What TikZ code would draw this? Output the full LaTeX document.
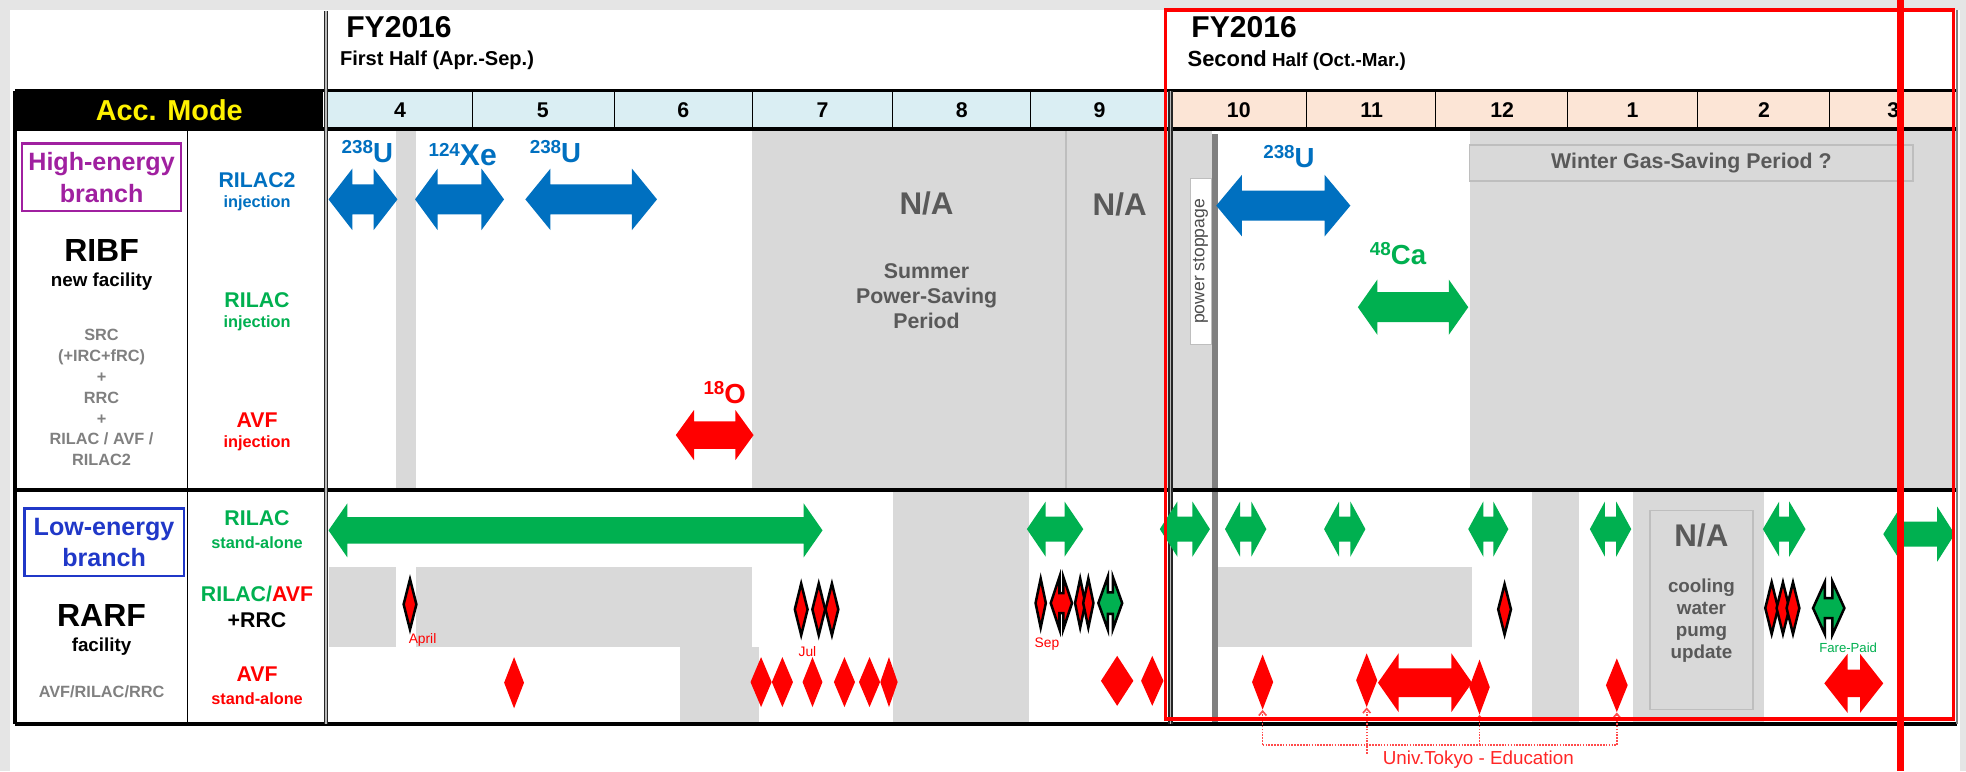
\documentclass[tikz,border=0pt]{standalone}
\usepackage{fontspec}
\setmainfont{Liberation Sans}
\usepackage{xcolor}
\usetikzlibrary{shapes.geometric, arrows.meta, positioning}

\definecolor{hblue}{RGB}{0,112,192}
\definecolor{hgreen}{RGB}{0,176,80}
\definecolor{hred}{RGB}{255,0,0}
\definecolor{hgrey}{RGB}{217,217,217}
\definecolor{hbord}{RGB}{190,190,190}
\definecolor{htext}{RGB}{89,89,89}
\definecolor{lgrey}{RGB}{128,128,128}
\definecolor{hpurple}{RGB}{160,32,160}
\definecolor{lblue}{RGB}{32,56,200}
\definecolor{mfirst}{RGB}{218,238,243}
\definecolor{msecond}{RGB}{252,229,214}
\definecolor{bgout}{RGB}{229,229,229}

\newcommand{\dblarrow}[7]{%
  \path[#1] (#2,#4) -- (#2+#5,#4-#6) -- (#2+#5,#4-#7) -- (#3-#5,#4-#7)
    -- (#3-#5,#4-#6) -- (#3,#4) -- (#3-#5,#4+#6) -- (#3-#5,#4+#7)
    -- (#2+#5,#4+#7) -- (#2+#5,#4+#6) -- cycle;}
\newcommand{\isotope}[2]{{\fontsize{15}{15}\selectfont\raisebox{7pt}{#1}}#2}

\begin{document}
\begin{tikzpicture}[
    x=1pt, y=-1pt,
    every node/.style={inner sep=0pt},
    mode/.style={font=\bfseries\fontsize{23}{23}\selectfont, text=yellow},
    fyear/.style={font=\bfseries\fontsize{24}{24}\selectfont, anchor=west},
    halfyr/.style={font=\bfseries\fontsize{16}{16}\selectfont, anchor=west},
    month/.style={font=\bfseries\fontsize{17}{17}\selectfont},
    branch/.style={draw, line width=1.8, inner sep=0pt, minimum width=127, minimum height=54, align=center, font=\bfseries\fontsize{20}{25}\selectfont},
    facility/.style={font=\bfseries\fontsize{25.5}{25.5}\selectfont},
    subfac/.style={font=\bfseries\fontsize{15}{15}\selectfont},
    accel/.style={font=\bfseries\fontsize{13}{16.7}\selectfont, text=lgrey, align=center},
    mach/.style={font=\bfseries\fontsize{17}{17}\selectfont},
    inj/.style={font=\bfseries\fontsize{13}{13}\selectfont},
    na/.style={font=\bfseries\fontsize{25}{25}\selectfont, text=htext},
    period/.style={font=\bfseries\fontsize{17}{20}\selectfont, text=htext, align=center},
    iso/.style={font=\bfseries\fontsize{22}{22}\selectfont},
    tag/.style={font=\fontsize{11}{11}\selectfont, text=hred},
    dline/.style={draw=black!85, double=gray!55, double distance=1.2, line width=1.1},
    rdia/.style 2 args={diamond, fill=hred, inner sep=0pt, minimum width=#1, minimum height=#2},
    odia/.style 2 args={diamond, fill=hred, draw=black, line width=2, line join=miter, inner sep=0pt, minimum width=#1, minimum height=#2},
    edu/.style={draw=hred!70, line width=1.3, densely dotted}
]
\fill[bgout] (0,0) rectangle (1568,615);
\useasboundingbox (0,0) rectangle (1568,615);
\fill[white] (8,8) rectangle (1563,615);

% grey periods
\fill[hgrey] (316,103) rectangle (332,391);
\fill[hgrey] (600,103) rectangle (967,391);
\fill[hgrey] (1172,103) rectangle (1561,391);
\fill[hgrey] (262,452) rectangle (316,516);
\fill[hgrey] (332,452) rectangle (600,516);
\fill[hgrey] (542,516) rectangle (605,577);
\fill[hgrey] (712,391) rectangle (821,577);
\fill[hgrey] (971,452) rectangle (1174,516);
\fill[hgrey] (1222,391) rectangle (1259,577);
\fill[hgrey] (1302,391) rectangle (1407,577);
\draw[hbord, line width=1.2] (850,103) -- (850,391);

% header row
\fill[black] (12,72.5) rectangle (258,103);
\fill[mfirst] (260,72.5) rectangle (933,103);
\fill[msecond] (933,72.5) rectangle (1561,103);
\foreach \x in {377,490,600,712,822,1042,1145,1250,1354,1459}
    \draw[line width=1] (\x,72.5) -- (\x,103);
\foreach \m/\x in {4/319,5/433,6/545,7/656,8/767,9/877,10/988,11/1094,12/1198,1/1302,2/1407,3/1510}
    \node[month] (m\m) at (\x,88) {\m};
\node[mode] (acc) at (135,88) {Acc. Mode};

% power stoppage
\draw[lgrey, line width=4.5] (969,107) -- (969,578);
\node[draw=hbord, fill=white, line width=0.6, rotate=90, minimum width=133, minimum height=17,
      font=\fontsize{14}{14}\selectfont, text=black!70] (stop) at (957.5,208.5) {power stoppage};

% table lines
\draw[line width=2.5] (12,72.5) -- (1561,72.5);
\draw[line width=3] (12,103) -- (1561,103);
\draw[line width=3] (12,391) -- (1561,391);
\draw[line width=3.5] (12,577.5) -- (1561,577.5);
\draw[line width=3] (12,72.5) -- (12,577.5);
\draw[line width=1] (149.5,103) -- (149.5,577.5);
\draw[dline] (260,9) -- (260,577.5);
\draw[dline] (933.5,72.5) -- (933.5,577.5);
\draw[gray, line width=1.2] (1561,8) -- (1561,577.5);

% headers
\node[fyear] (fy1) at (276,22) {FY2016};
\node[halfyr] (hf1) at (271,48) {First Half (Apr.-Sep.)};
\node[fyear] (fy2) at (950,22) {FY2016};
\node[halfyr, font=\bfseries\fontsize{15}{15}\selectfont] (hf2) at (947,48) {{\fontsize{17.5}{17.5}\selectfont Second} Half (Oct.-Mar.)};

% left columns
\node[branch, draw=hpurple, text=hpurple] (heb) at (81,141.5) {High-energy\\branch};
\node[facility] (ribf) at (81,199.5) {RIBF};
\node[subfac] (ribfn) at (81,225) {new facility};
\node[accel] (ribfa) at (81,317) {SRC\\(+IRC+fRC)\\+\\RRC\\+\\RILAC / AVF /\\RILAC2};
\node[branch, draw=lblue, text=lblue] (leb) at (83,432.5) {Low-energy\\branch};
\node[facility] (rarf) at (81,490.5) {RARF};
\node[subfac] (rarfn) at (81,516) {facility};
\node[accel] (rarfa) at (81,551.5) {AVF/RILAC/RRC};

\node[mach, text=hblue] (r2) at (205,144) {RILAC2};
\node[inj, text=hblue] (r2i) at (205,162) {injection};
\node[mach, text=hgreen] (r1) at (205,239) {RILAC};
\node[inj, text=hgreen] (r1i) at (205,258) {injection};
\node[mach, text=hred] (av) at (205,335) {AVF};
\node[inj, text=hred] (avi) at (205,353.5) {injection};
\node[mach, text=hgreen] (r1s) at (205,413) {RILAC};
\node[inj, text=hgreen] (r1si) at (205,433) {stand-alone};
\node[mach] (ra) at (205,474) {\textcolor{hgreen}{RILAC/}\textcolor{hred}{AVF}};
\node[mach] (rrc) at (205,494.5) {+RRC};
\node[mach, text=hred] (avs) at (205,538) {AVF};
\node[inj, text=hred] (avsi) at (205,557.5) {stand-alone};

% shutdown periods
\node[na] (na1) at (739,162) {N/A};
\node[na] (na2) at (893,163) {N/A};
\node[period] (summer) at (739,236.5) {Summer\\Power-Saving\\Period};
\node[draw=hbord, fill=hgrey, line width=1.5, minimum width=354, minimum height=29,
      font=\bfseries\fontsize{17}{17}\selectfont, text=htext] (winter) at (1349,130) {Winter Gas-Saving Period ?};
\node[draw=hbord, fill=hgrey, line width=1.2, minimum width=82, minimum height=159] (cool) at (1357,486.5) {};
\node[na] (na3) at (1357,427) {N/A};
\node[period, font=\bfseries\fontsize{15}{17.5}\selectfont] (coolt) at (1357,495) {cooling\\water\\pumg\\update};

% high-energy beams
\dblarrow{fill=hblue}{262}{317}{159}{19}{24.5}{12}
\dblarrow{fill=hblue}{331}{402}{159}{18}{24.5}{12}
\dblarrow{fill=hblue}{419}{524}{159}{20}{24.5}{12}
\dblarrow{fill=hblue}{970}{1077}{164}{20.5}{24.5}{12}
\dblarrow{fill=hgreen}{1083}{1171}{245}{15.5}{22}{12}
\dblarrow{fill=hred}{539}{601}{347}{14.5}{20}{11}
\node[iso, text=hblue] (u1) at (293,121) {\isotope{238}{U}};
\node[iso, text=hblue, font=\bfseries\fontsize{24}{24}\selectfont] (xe) at (369,123) {\isotope{124}{Xe}};
\node[iso, text=hblue] (u2) at (443,121) {\isotope{238}{U}};
\node[iso, text=hblue] (u3) at (1028,125) {\isotope{238}{U}};
\node[iso, text=hgreen] (ca) at (1115,202) {\isotope{48}{Ca}};
\node[iso, text=hred] (ox) at (578,313) {\isotope{18}{O}};

% RILAC stand-alone
\dblarrow{fill=hgreen}{262}{656}{423}{15}{21.5}{10.5}
\foreach \a/\b/\h in {819/864/15,925/965/14,977/1010/12,1056/1089/12,1171/1203/12,1268/1301/12,1406/1440/13}
    {\dblarrow{fill=hgreen}{\a}{\b}{422}{\h}{22}{10}}
\dblarrow{fill=hgreen}{1502}{1559}{426}{14}{22}{10}

% RILAC/AVF + RRC
\node[odia={11}{41}] (apr) at (327,482) {};
\node[odia={11}{42}] (jul1) at (639,486) {};
\node[odia={11}{42}] (jul2) at (653,486) {};
\node[odia={11}{42}] (jul3) at (663.5,486) {};
\node[odia={9}{40}] (sep1) at (830,481) {};
\dblarrow{fill=hred, draw=black, line width=2, line join=miter}{838}{855}{481}{7}{21}{8}
\node[odia={9}{40}] (sep2) at (861.5,481) {};
\node[odia={9}{40}] (sep3) at (868,481) {};
\dblarrow{fill=hgreen, draw=black, line width=2, line join=miter}{876}{895}{481}{7.5}{21}{8.5}
\node[odia={11}{41}] (dec) at (1200,486) {};
\node[odia={11}{42}] (feb1) at (1413,485) {};
\node[odia={11}{42}] (feb2) at (1422,485) {};
\node[odia={11}{42}] (feb3) at (1430,485) {};
\dblarrow{fill=hgreen, draw=black, line width=2, line join=miter}{1446}{1471}{485}{9.5}{21}{8}
\node[tag] (tapr) at (337,510) {April};
\node[tag] (tjul) at (644,520) {Jul};
\node[tag] (tsep) at (835,514) {Sep};
\node[tag, text=hgreen, font=\fontsize{10.5}{10.5}\selectfont] (tfare) at (1474,517) {Fare-Paid};

% AVF stand-alone
\node[rdia={16}{41}] (a1) at (410,544.5) {};
\foreach \x/\w [count=\i] in {607/17,624/17,648/16,673.5/17,693.5/17,709/14}
    \node[rdia={\w}{40}] (jl\i) at (\x,544) {};
\node[rdia={26}{40}] (sp1) at (891,543) {};
\node[rdia={18}{40}] (sp2) at (919,543) {};
\node[rdia={17}{44}] (t1) at (1007,544) {};
\node[rdia={17}{43}] (t2) at (1090,542.5) {};
\node[rdia={16.5}{44}] (t3) at (1180,548) {};
\node[rdia={17.5}{43}] (t4) at (1289.5,546.5) {};
\dblarrow{fill=hred}{1099}{1174}{544.5}{16.5}{23.5}{11.5}
\dblarrow{fill=hred}{1455}{1502}{545}{18.5}{23.5}{11}

% Univ. Tokyo education
\coordinate (ebase) at (0,594);
\coordinate (eend) at (0,601);
\draw[edu] (t1.south |- ebase) -- (t4.south |- ebase);
\foreach \t in {t1,t3,t4}
    \draw[edu, -{Straight Barb[length=3.5pt, width=6pt]}] (\t.south |- ebase) -- (\t.south);
\draw[edu, -{Straight Barb[length=3.5pt, width=6pt]}] (t2.south |- eend) -- (t2.south);
\node[font=\fontsize{15}{15}\selectfont, text=hred!85] (utokyo) at (1179,606) {Univ.Tokyo - Education};

% red marks
\draw[hred, line width=3] (929.5,8) rectangle (1558,573.5);
\draw[hred, line width=5.5] (1515.5,0) -- (1515.5,615);
\end{tikzpicture}
\end{document}
